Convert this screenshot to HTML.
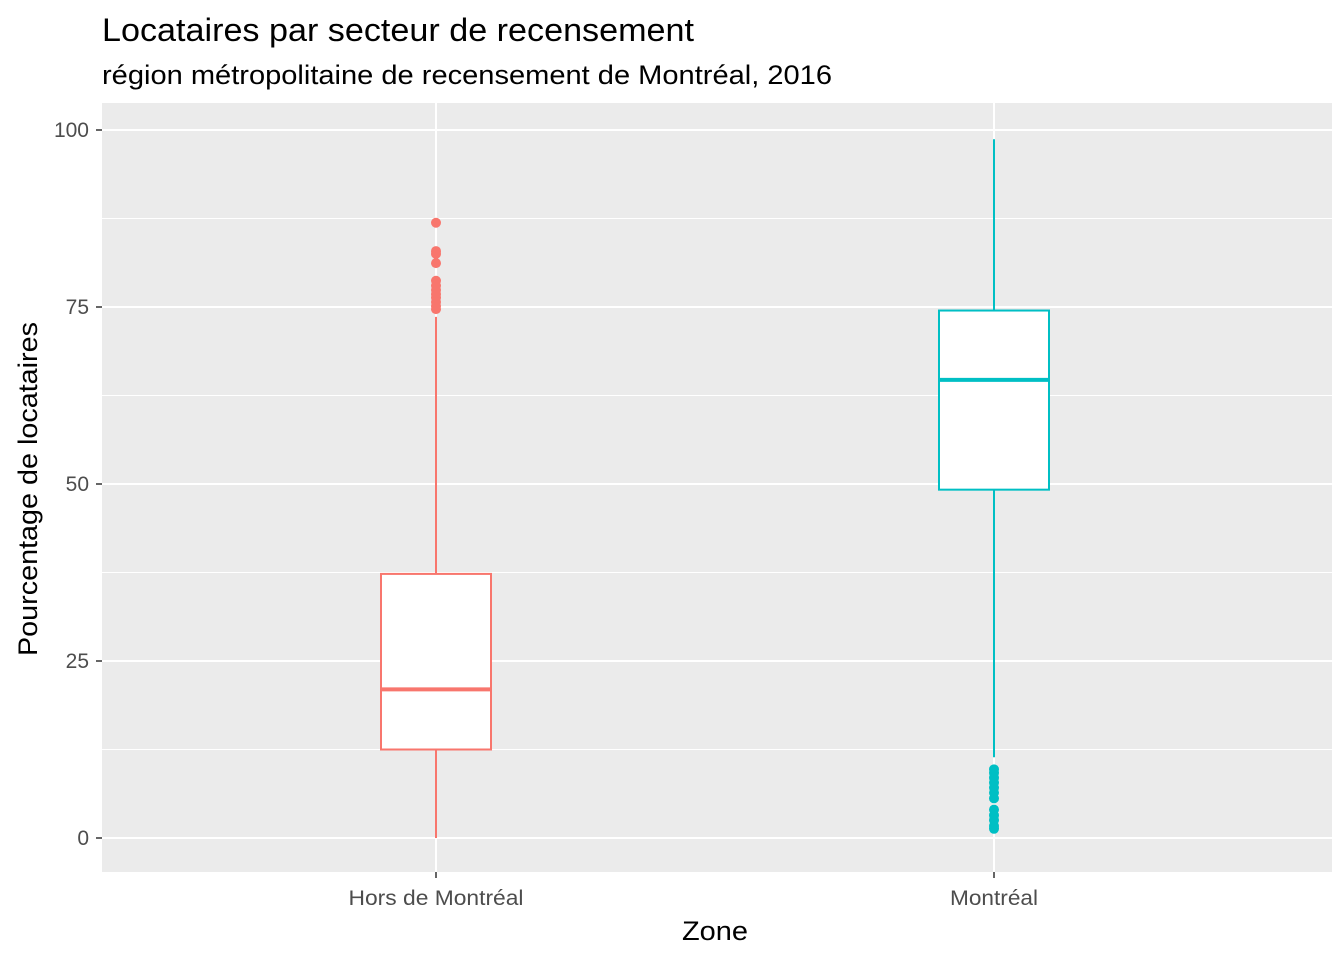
<!DOCTYPE html>
<html><head><meta charset="utf-8"><style>
body{margin:0;background:#fff;font-family:"Liberation Sans",Arial,sans-serif}
</style></head><body>
<svg id="c" width="1344" height="960" xmlns="http://www.w3.org/2000/svg">
<text x="102" y="41" font-size="32" textLength="592" lengthAdjust="spacingAndGlyphs" fill="#000">Locataires par secteur de recensement</text>
<text x="102" y="84" font-size="27" textLength="730" lengthAdjust="spacingAndGlyphs" fill="#000">région métropolitaine de recensement de Montréal, 2016</text>
<rect x="102" y="103" width="1230" height="769" fill="#ebebeb"/>
<g id="grid"></g><g id="marks"></g><g id="axes"></g>
<text x="715" y="940" font-size="27" text-anchor="middle" textLength="66" lengthAdjust="spacingAndGlyphs" fill="#000">Zone</text>
<text transform="translate(37,489) rotate(-90)" font-size="27" text-anchor="middle" textLength="334" lengthAdjust="spacingAndGlyphs" fill="#000">Pourcentage de locataires</text>
</svg>
<script>
const categories=["Hors de Montréal","Montréal"];
const catLen=[175,88];
const colors=["#F8766D","#00BFC4"];
const q1=[12.5,49.2];
const medians=[21,64.7];
const q3=[37.3,74.5];
const whiskLo=[0,11.4];
const whiskHi=[73.6,98.7];
const outliersHors=[86.9,82.9,82.5,81.2,78.7,78,77.4,76.8,76.3,75.7,75.1,74.7];
const outliersMtl=[9.7,9.2,8.5,7.8,7.1,6.4,5.6,4,3.2,2.5,1.7,1.3];
const yTicks=[0,25,50,75,100];
const ns="http://www.w3.org/2000/svg";
const y=v=>838-v*7.08;
const x=i=>436+i*558;
function mk(p,t,a){const e=document.createElementNS(ns,t);for(const k in a)e.setAttribute(k,a[k]);p.appendChild(e);return e;}
const grid=document.getElementById('grid'),marks=document.getElementById('marks'),axes=document.getElementById('axes');
[12.5,37.5,62.5,87.5].forEach(v=>{const l=mk(grid,'line',{x1:102,x2:1332,y1:y(v),y2:y(v),stroke:'#fff','stroke-width':1});

});
yTicks.forEach(v=>{const l=mk(grid,'line',{x1:102,x2:1332,y1:y(v),y2:y(v),stroke:'#fff','stroke-width':2});


const t=mk(axes,'line',{x1:96,x2:102,y1:y(v),y2:y(v),stroke:'#333','stroke-width':1.5});


const tx=mk(axes,'text',{x:89,y:y(v)+7,'font-size':21,'text-anchor':'end',fill:'#4d4d4d'});tx.textContent=v;

});
categories.forEach((c,i)=>{const l=mk(grid,'line',{x1:x(i),x2:x(i),y1:103,y2:872,stroke:'#fff','stroke-width':2});


const t=mk(axes,'line',{x1:x(i),x2:x(i),y1:872,y2:878,stroke:'#333','stroke-width':1.5});


const tx=mk(axes,'text',{x:x(i),y:905,'font-size':21,'text-anchor':'middle',fill:'#4d4d4d',textLength:catLen[i],lengthAdjust:'spacingAndGlyphs'});tx.textContent=c;


const g=mk(marks,'g',{});


const col=colors[i];
mk(g,'line',{x1:x(i),x2:x(i),y1:y(whiskLo[i]),y2:y(q1[i]),stroke:col,'stroke-width':2});
mk(g,'line',{x1:x(i),x2:x(i),y1:y(q3[i]),y2:y(whiskHi[i]),stroke:col,'stroke-width':2});
mk(g,'rect',{x:x(i)-55,y:y(q3[i]),width:110,height:y(q1[i])-y(q3[i]),fill:'#fff',stroke:col,'stroke-width':2});
mk(g,'line',{x1:x(i)-55,x2:x(i)+55,y1:y(medians[i]),y2:y(medians[i]),stroke:col,'stroke-width':4});
const outs=i==0?outliersHors:outliersMtl;
outs.forEach(v=>{const p=mk(g,'circle',{cx:x(i),cy:y(v),r:5,fill:col});

});
});
</script>
</body></html>
